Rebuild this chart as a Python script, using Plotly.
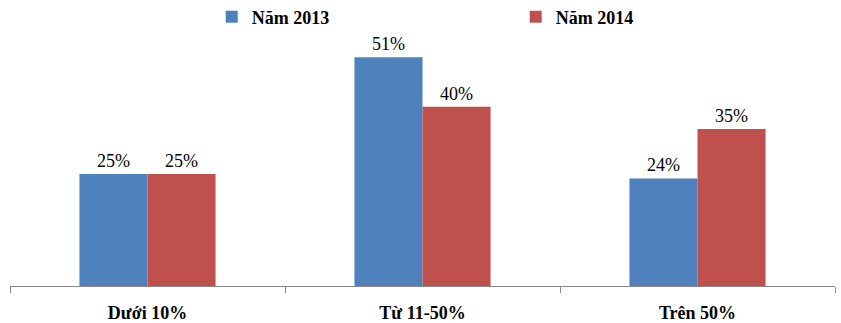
import plotly.graph_objects as go

categories = ["Dưới 10%", "Từ 11-50%", "Trên 50%"]
series_2013 = [25, 51, 24]
series_2014 = [25, 40, 35]
series_names = ["Năm 2013", "Năm 2014"]

BLUE = "#4F81BD"
RED = "#C0504D"
SERIF = "Times New Roman, Liberation Serif, serif"

fig = go.Figure()
for name, vals, color in [(series_names[0], series_2013, BLUE),
                          (series_names[1], series_2014, RED)]:
    fig.add_trace(go.Bar(
        x=categories, y=vals, name=f"<b>{name}</b>",
        marker=dict(color=color, line=dict(width=0)),
        text=[f"{v}%" for v in vals], textposition="outside",
        textfont=dict(family=SERIF, size=18, color="black"),
        cliponaxis=False,
    ))

fig.update_layout(
    width=841, height=323,
    font=dict(family=SERIF, size=18, color="black"),
    margin=dict(l=10, r=6, t=17, b=37, autoexpand=False),
    paper_bgcolor="white", plot_bgcolor="white",
    barmode="group", bargap=0.505, bargroupgap=0,
    showlegend=True,
    legend=dict(orientation="h", x=0.2445, xanchor="left", y=1.0, yanchor="middle",
                entrywidth=259, entrywidthmode="pixels",
                font=dict(family=SERIF, size=18, color="black"),
                itemwidth=30, bgcolor="rgba(0,0,0,0)"),
    xaxis=dict(
        tickmode="array", tickvals=categories,
        ticktext=[f"<b>{c}</b>" for c in categories],
        tickfont=dict(family=SERIF, size=18, color="black"),
        ticklabelstandoff=10,
        showline=True, linecolor="#888888", linewidth=1,
        ticks="outside", tickson="boundaries", ticklen=6, tickcolor="#888888",
        showgrid=False,
    ),
    yaxis=dict(range=[0, 60], visible=False, showgrid=False),
)

fig.write_html("out.html")
